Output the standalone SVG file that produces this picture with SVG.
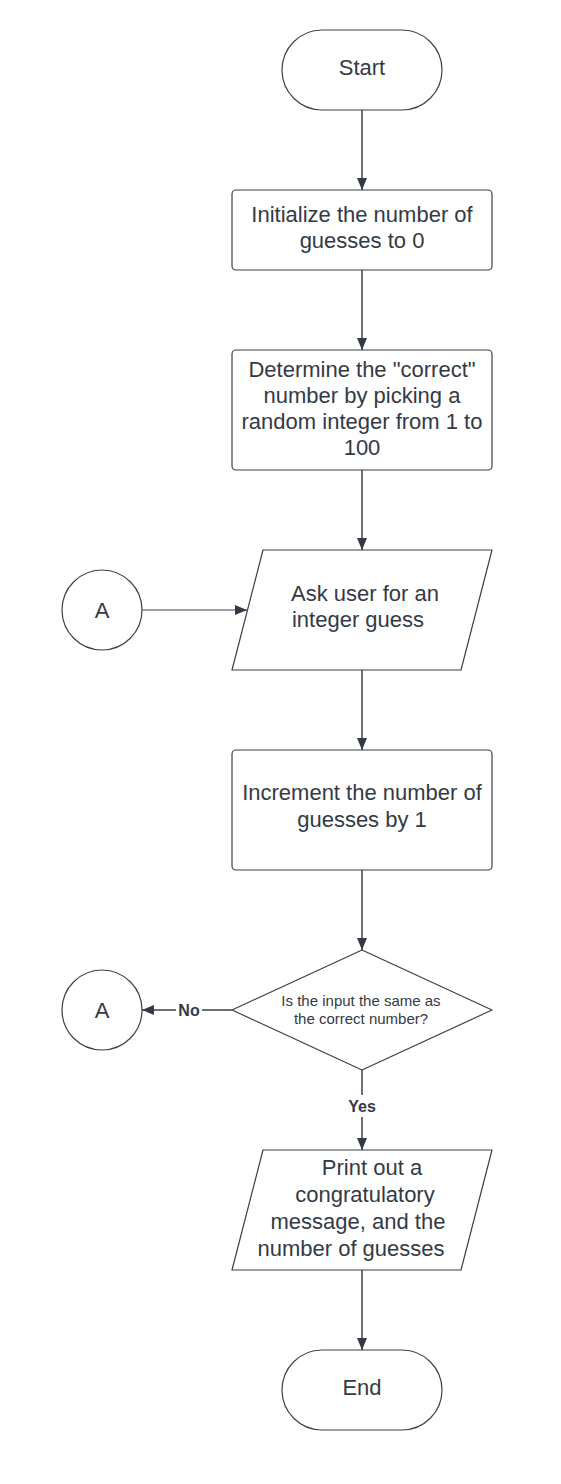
<svg xmlns="http://www.w3.org/2000/svg" width="561" height="1484" viewBox="0 0 561 1484">
<style>
.sh{fill:#ffffff;stroke:#3a414a;stroke-width:1.2;stroke-linejoin:round}
.t{font-family:"Liberation Sans",Arial,sans-serif;font-size:22px;fill:#333a45;text-anchor:middle}
.s{font-size:15px}
.lb{font-family:"Liberation Sans",Arial,sans-serif;font-size:16px;font-weight:bold;fill:#333a45;text-anchor:middle}
.c{stroke:#3a414a;stroke-width:1.5;fill:none}
</style>
<defs>
<marker id="ah" viewBox="0 0 12 10" refX="12" refY="5" markerWidth="12" markerHeight="10" markerUnits="userSpaceOnUse" orient="auto">
<path d="M0,0 L12,5 L0,10 Z" fill="#333a45"/>
</marker>
</defs>
<rect width="561" height="1484" fill="#ffffff"/>
<g id="connectors">
<line class="c" x1="362" y1="110" x2="362" y2="190" marker-end="url(#ah)"/>
<line class="c" x1="362" y1="270" x2="362" y2="350" marker-end="url(#ah)"/>
<line class="c" x1="362" y1="470" x2="362" y2="550" marker-end="url(#ah)"/>
<line class="c" x1="142" y1="610" x2="247" y2="610" marker-end="url(#ah)" style="stroke-width:1.2"/>
<line class="c" x1="362" y1="670" x2="362" y2="750" marker-end="url(#ah)"/>
<line class="c" x1="362" y1="870" x2="362" y2="950" marker-end="url(#ah)"/>
<line class="c" x1="232" y1="1010" x2="142" y2="1010" marker-end="url(#ah)"/>
<line class="c" x1="362" y1="1070" x2="362" y2="1150" marker-end="url(#ah)"/>
<line class="c" x1="362" y1="1270" x2="362" y2="1350" marker-end="url(#ah)"/>
<rect x="176" y="1000" width="26" height="20" fill="#ffffff"/>
<text class="lb" x="189" y="1016">No</text>
<rect x="346" y="1095" width="32" height="22" fill="#ffffff"/>
<text class="lb" x="362" y="1112">Yes</text>
</g>
<g id="start">
<rect class="sh" x="282" y="30" width="160" height="80" rx="40" ry="40"/>
<text class="t" x="362" y="75">Start</text>
</g>
<g id="init">
<rect class="sh" x="232" y="190" width="260" height="80" rx="4"/>
<text class="t" x="362" y="222">Initialize the number of</text>
<text class="t" x="362" y="248">guesses to 0</text>
</g>
<g id="determine">
<rect class="sh" x="232" y="350" width="260" height="120" rx="4"/>
<text class="t" x="362" y="377">Determine the "correct"</text>
<text class="t" x="362" y="403">number by picking a</text>
<text class="t" x="362" y="429">random integer from 1 to</text>
<text class="t" x="362" y="455">100</text>
</g>
<g id="ask">
<path class="sh" d="M263,550 L492,550 L461,670 L232,670 Z"/>
<text class="t" x="365" y="601">Ask user for an</text>
<text class="t" x="358" y="627">integer guess</text>
</g>
<g id="connA1">
<circle class="sh" cx="102" cy="610" r="40"/>
<text class="t" x="102" y="618">A</text>
</g>
<g id="increment">
<rect class="sh" x="232" y="750" width="260" height="120" rx="4"/>
<text class="t" x="362" y="800">Increment the number of</text>
<text class="t" x="362" y="827">guesses by 1</text>
</g>
<g id="decision">
<path class="sh" d="M362,950 L492,1010 L362,1070 L232,1010 Z"/>
<text class="t s" x="361" y="1006">Is the input the same as</text>
<text class="t s" x="361" y="1024">the correct number?</text>
</g>
<g id="connA2">
<circle class="sh" cx="102" cy="1010" r="40"/>
<text class="t" x="102" y="1018">A</text>
</g>
<g id="print">
<path class="sh" d="M263,1150 L492,1150 L461,1270 L232,1270 Z"/>
<text class="t" x="372" y="1175">Print out a</text>
<text class="t" x="365" y="1202">congratulatory</text>
<text class="t" x="358" y="1229">message, and the</text>
<text class="t" x="351" y="1256">number of guesses</text>
</g>
<g id="end">
<rect class="sh" x="282" y="1350" width="160" height="80" rx="40" ry="40"/>
<text class="t" x="362" y="1395">End</text>
</g>
</svg>
